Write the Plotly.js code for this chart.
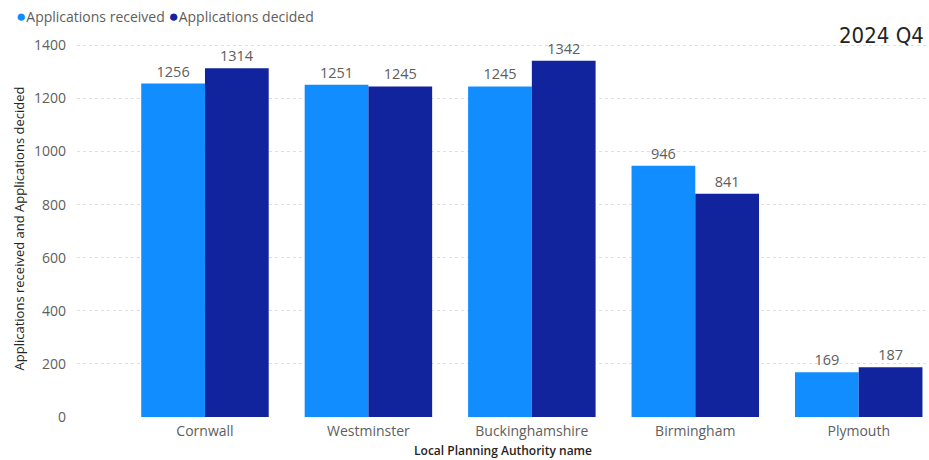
<!DOCTYPE html>
<html>
<head>
<meta charset="utf-8">
<script src="https://cdn.plot.ly/plotly-3.0.1.min.js"></script>
<style>html,body{margin:0;padding:0;background:#fff;} #chart{width:929px;height:460px;}</style>
</head>
<body>
<div id="chart"></div>
<script>
const categories = ["Cornwall", "Westminster", "Buckinghamshire", "Birmingham", "Plymouth"];
const received = [1256, 1251, 1245, 946, 169];
const decided = [1314, 1245, 1342, 841, 187];
const seriesNames = ["Applications received", "Applications decided"];
const colors = ["#118DFF", "#12239E"];
const periodLabel = "2024 Q4";

const font = "'Segoe UI', 'Open Sans', 'Noto Sans', sans-serif";
const gray = "#605E5C";

const traces = [
  {type: "bar", x: categories, y: received, name: seriesNames[0], marker: {color: colors[0]},
   text: received.map(String), textposition: "outside", cliponaxis: false,
   textfont: {family: font, size: 14.5, color: gray}, hoverinfo: "x+y"},
  {type: "bar", x: categories, y: decided, name: seriesNames[1], marker: {color: colors[1]},
   text: decided.map(String), textposition: "outside", cliponaxis: false,
   textfont: {family: font, size: 14.5, color: gray}, hoverinfo: "x+y"}
];

const legendText = seriesNames.map((n, i) =>
  '<span style="color:' + colors[i] + ';font-size:17px">●</span>' + n).join(' ');

const layout = {
  width: 929, height: 460,
  margin: {l: 77, r: 0, t: 40, b: 43},
  paper_bgcolor: "#fff", plot_bgcolor: "#fff",
  font: {family: font, color: gray},
  barmode: "group", bargap: 0.22, bargroupgap: 0,
  showlegend: false,
  xaxis: {type: "category", range: [-0.783, 4.43], showgrid: false, zeroline: false,
          showline: false, ticks: "", ticklabelstandoff: 4,
          tickfont: {family: font, size: 14, color: gray},
          title: {text: "Local Planning Authority name", standoff: 7,
                  font: {family: font, size: 12, color: "#252423", weight: 600}}},
  yaxis: {range: [0, 1420], tickvals: [0, 200, 400, 600, 800, 1000, 1200, 1400],
          showgrid: true, gridcolor: "#E1DFDD", griddash: "dot", gridwidth: 1,
          zeroline: false, showline: false, ticks: "", ticklabelstandoff: 10,
          tickfont: {family: font, size: 14, color: gray},
          title: {text: "Applications received and Applications decided", standoff: 6,
                  font: {family: font, size: 13, color: "#252423"}}},
  annotations: [
    {text: periodLabel, xref: "paper", yref: "paper", x: 0.996, y: (417 - 35) / 377,
     xanchor: "right", yanchor: "middle", showarrow: false,
     font: {family: "'DejaVu Sans Condensed', 'Roboto', sans-serif", size: 22, color: "#252423"}},
    {text: legendText, xref: "paper", yref: "paper", x: -77 / 852, y: (417 - 16) / 377,
     xanchor: "left", yanchor: "middle", showarrow: false, xshift: 14,
     font: {family: font, size: 14, color: gray}}
  ]
};

Plotly.newPlot("chart", traces, layout, {displayModeBar: false, staticPlot: true});
</script>
</body>
</html>
